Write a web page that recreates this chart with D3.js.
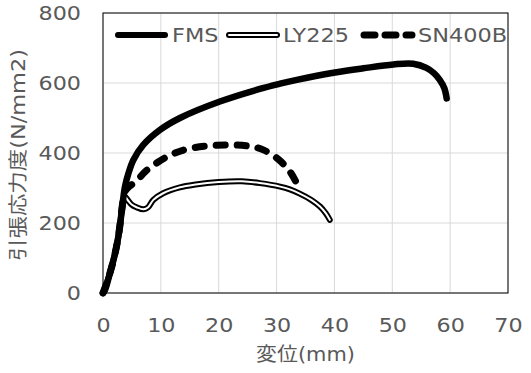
<!DOCTYPE html>
<html>
<head>
<meta charset="utf-8">
<script src="https://cdn.jsdelivr.net/npm/d3@7"></script>
<style>
  html, body { margin: 0; padding: 0; background: #fff; }
  svg { display: block; }
  text { font-family: "DejaVu Sans", "Noto Sans CJK JP", sans-serif; fill: #595959; }
</style>
</head>
<body>
<svg id="chart" width="531" height="373"></svg>
<script>
// ---- data ----
const xTicks = [0, 10, 20, 30, 40, 50, 60, 70];
const yTicks = [0, 200, 400, 600, 800];
const seriesNames = ["FMS", "LY225", "SN400B"];
const xLabel = "変位(mm)";
const yLabel = "引張応力度(N/mm2)";

const fmsX = [0, 0.35, 1.2, 2.1, 2.65, 3.05, 3.4, 3.8, 4.4, 5.25, 6.96, 9.85, 13.3, 20.2, 27.1, 30.6, 33.5, 40.1, 45, 50.2, 53.6, 55.9, 57.2, 58.2, 59.0, 59.4];
const fmsY = [0, 9, 57, 114, 161, 209, 257, 304, 342, 380, 423, 466, 500, 547, 583, 598, 609, 630, 642, 653, 655, 643, 628, 609, 585, 556];

const lyX = [0, 1.2, 2.1, 2.65, 3.05, 3.4, 3.8, 4.3, 5.0, 5.8, 7.0, 7.8, 8.7, 10.4, 13.3, 16, 20, 24, 27.1, 30.6, 32.3, 34, 36, 37.5, 38.5, 39.2];
const lyY = [0, 57, 114, 161, 209, 250, 275, 265, 252, 245, 239, 245, 266, 285, 302, 310, 317, 319, 314, 304, 296, 284, 266, 247, 228, 209];

const snX = [0, 1.2, 2.1, 2.65, 3.05, 3.4, 3.8, 4.6, 5.8, 7.3, 9.6, 11.9, 14.5, 17.9, 21.7, 25.1, 27.7, 30.3, 32.3, 33.5];
const snY = [0, 57, 114, 161, 209, 257, 290, 305, 320, 347, 375, 396, 411, 420, 423, 420, 409, 382, 347, 313];

// ---- layout ----
const svg = d3.select("#chart");
const L = 103, R = 508, T = 13, B = 293;
const x = d3.scaleLinear().domain([0, 70]).range([L, R]);
const y = d3.scaleLinear().domain([0, 800]).range([B, T]);
const STRETCH = 1.17;

function stretch(sel, k) {
  sel.each(function () {
    const w = this.getComputedTextLength();
    this.setAttribute("textLength", w * k);
    this.setAttribute("lengthAdjust", "spacingAndGlyphs");
  });
}

// gridlines
svg.append("g").selectAll("line.v").data(xTicks).join("line")
  .attr("x1", d => x(d)).attr("x2", d => x(d)).attr("y1", T).attr("y2", B)
  .attr("stroke", "#d9d9d9").attr("stroke-width", 1);
svg.append("g").selectAll("line.h").data(yTicks).join("line")
  .attr("x1", L).attr("x2", R).attr("y1", d => y(d)).attr("y2", d => y(d))
  .attr("stroke", "#d9d9d9").attr("stroke-width", 1);

// axes (labels)
const gx = svg.append("g").attr("transform", `translate(0,${B})`)
  .call(d3.axisBottom(x).tickValues(xTicks).tickSize(0).tickPadding(26));
const gy = svg.append("g").attr("transform", `translate(${L},0)`)
  .call(d3.axisLeft(y).tickValues(yTicks).tickSize(0).tickPadding(22));
[gx, gy].forEach(g => {
  g.select(".domain").remove();
  g.selectAll("text").attr("font-size", 19).attr("fill", "#595959")
    .attr("font-family", '"DejaVu Sans", sans-serif');
});
stretch(gx.selectAll("text"), STRETCH);
stretch(gy.selectAll("text"), STRETCH);

// axis titles
const xt = svg.append("text").attr("x", 305.5).attr("y", 361).attr("text-anchor", "middle")
  .attr("font-size", 19).text(xLabel);
stretch(xt, 1.1);
const yt = svg.append("text").attr("transform", "translate(25,155) rotate(-90)")
  .attr("text-anchor", "middle").attr("font-size", 19).text(yLabel);
stretch(yt, 1.18);

// series
const line = d3.line().x(d => x(d[0])).y(d => y(d[1])).curve(d3.curveCatmullRom.alpha(0.5));
const fms = d3.zip(fmsX, fmsY), ly = d3.zip(lyX, lyY), sn = d3.zip(snX, snY);

const plot = svg.append("g");
plot.append("path").attr("d", line(ly)).attr("fill", "none")
  .attr("stroke", "#000").attr("stroke-width", 6).attr("stroke-linejoin", "round").attr("stroke-linecap", "round");
plot.append("path").attr("d", line(ly)).attr("fill", "none")
  .attr("stroke", "#fff").attr("stroke-width", 2).attr("stroke-linejoin", "round").attr("stroke-linecap", "round");
plot.append("path").attr("d", line(sn)).attr("fill", "none")
  .attr("stroke", "#000").attr("stroke-width", 7).attr("stroke-linecap", "round")
  .attr("stroke-dasharray", "9,12");
plot.append("path").attr("d", line(fms)).attr("fill", "none")
  .attr("stroke", "#000").attr("stroke-width", 6.5).attr("stroke-linejoin", "round").attr("stroke-linecap", "round");

// frame
svg.append("rect").attr("x", L).attr("y", T).attr("width", R - L).attr("height", B - T)
  .attr("fill", "none").attr("stroke", "#000").attr("stroke-width", 1);

// legend
const legY = 35;
const leg = [
  { name: seriesNames[0], x1: 118, x2: 165, tx: 172 },
  { name: seriesNames[1], x1: 229, x2: 277, tx: 283 },
  { name: seriesNames[2], x1: 364, x2: 412, tx: 418 }
];
const lg = svg.append("g");
lg.append("line").attr("x1", leg[0].x1).attr("x2", leg[0].x2).attr("y1", legY).attr("y2", legY)
  .attr("stroke", "#000").attr("stroke-width", 6).attr("stroke-linecap", "round");
lg.append("line").attr("x1", leg[1].x1).attr("x2", leg[1].x2).attr("y1", legY).attr("y2", legY)
  .attr("stroke", "#000").attr("stroke-width", 6).attr("stroke-linecap", "round");
lg.append("line").attr("x1", leg[1].x1).attr("x2", leg[1].x2).attr("y1", legY).attr("y2", legY)
  .attr("stroke", "#fff").attr("stroke-width", 2).attr("stroke-linecap", "round");
lg.append("line").attr("x1", leg[2].x1).attr("x2", leg[2].x2).attr("y1", legY).attr("y2", legY)
  .attr("stroke", "#000").attr("stroke-width", 7).attr("stroke-linecap", "round")
  .attr("stroke-dasharray", "11,10");
const lt = lg.selectAll("text.leg").data(leg).join("text")
  .attr("x", d => d.tx).attr("y", legY + 7).attr("font-size", 20)
  .attr("font-family", '"DejaVu Sans", sans-serif').text(d => d.name);
stretch(lt, 1.12);
</script>
</body>
</html>
